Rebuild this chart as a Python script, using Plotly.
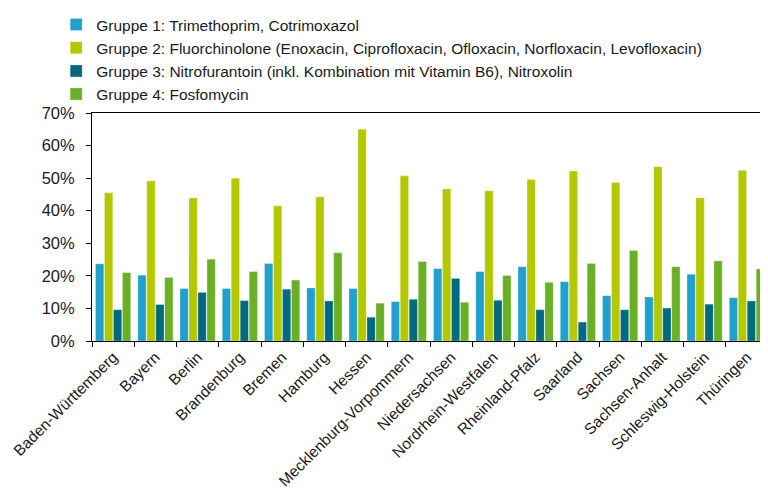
import plotly.graph_objects as go

# Bundesländer (x-axis categories)
laender = ["Baden-Württemberg", "Bayern", "Berlin", "Brandenburg", "Bremen", "Hamburg",
           "Hessen", "Mecklenburg-Vorpommern", "Niedersachsen", "Nordrhein-Westfalen",
           "Rheinland-Pfalz", "Saarland", "Sachsen", "Sachsen-Anhalt",
           "Schleswig-Holstein", "Thüringen"]

# shares in percent
gruppe1 = [23.7, 20.2, 16.1, 16.1, 23.8, 16.3, 16.1, 12.1, 22.2, 21.3, 22.8, 18.2, 13.9, 13.5, 20.5, 13.3]
gruppe2 = [45.5, 49.1, 43.9, 50.0, 41.5, 44.2, 65.0, 50.7, 46.7, 46.1, 49.6, 52.2, 48.7, 53.5, 44.0, 52.4]
gruppe3 = [9.6, 11.2, 14.9, 12.4, 15.9, 12.3, 7.3, 12.8, 19.2, 12.5, 9.6, 5.8, 9.6, 10.1, 11.3, 12.3]
gruppe4 = [21.0, 19.5, 25.1, 21.3, 18.7, 27.1, 11.6, 24.4, 11.9, 20.1, 18.0, 23.8, 27.8, 22.8, 24.6, 22.1]

names = ["Gruppe 1: Trimethoprim, Cotrimoxazol",
         "Gruppe 2: Fluorchinolone (Enoxacin, Ciprofloxacin, Ofloxacin, Norfloxacin, Levofloxacin)",
         "Gruppe 3: Nitrofurantoin (inkl. Kombination mit Vitamin B6), Nitroxolin",
         "Gruppe 4: Fosfomycin"]
colors = ["#1fa0cd", "#b4c800", "#006a80", "#6ab024"]

fig = go.Figure()
for name, vals, col in zip(names, [gruppe1, gruppe2, gruppe3, gruppe4], colors):
    fig.add_trace(go.Bar(x=laender, y=[v / 100 for v in vals], name=name,
                         marker=dict(color=col, line=dict(color="rgba(255,255,255,0.5)", width=0.5))))

# page has an 8px body margin, so the figure is a bit smaller than the window
fig.update_layout(
    width=760, height=486,
    margin=dict(l=84, r=0, t=105, b=153),
    paper_bgcolor="white", plot_bgcolor="white",
    font=dict(family="Liberation Sans, Arial, sans-serif", size=15, color="#1a1a1a"),
    barmode="group", bargap=0.15, bargroupgap=0.08,
    showlegend=True,
    legend=dict(x=-0.053, y=1, xanchor="left", yanchor="top", yref="container",
                font=dict(size=15.5), tracegroupgap=0, itemwidth=30,
                bgcolor="rgba(0,0,0,0)"),
    xaxis=dict(showline=True, linecolor="black", linewidth=1, mirror=True,
               ticks="outside", tickson="boundaries", ticklen=5, tickcolor="black",
               tickangle=-45, tickfont=dict(size=15.5), showgrid=False, automargin=False),
    yaxis=dict(range=[0, 0.7], dtick=0.1, tickformat=".0%", showline=True,
               linecolor="black", linewidth=1, ticks="outside", ticklen=5,
               tickcolor="black", showgrid=False, zeroline=False,
               tickfont=dict(size=16.5), ticklabelstandoff=8, automargin=False),
)

fig.write_html("out.html")
